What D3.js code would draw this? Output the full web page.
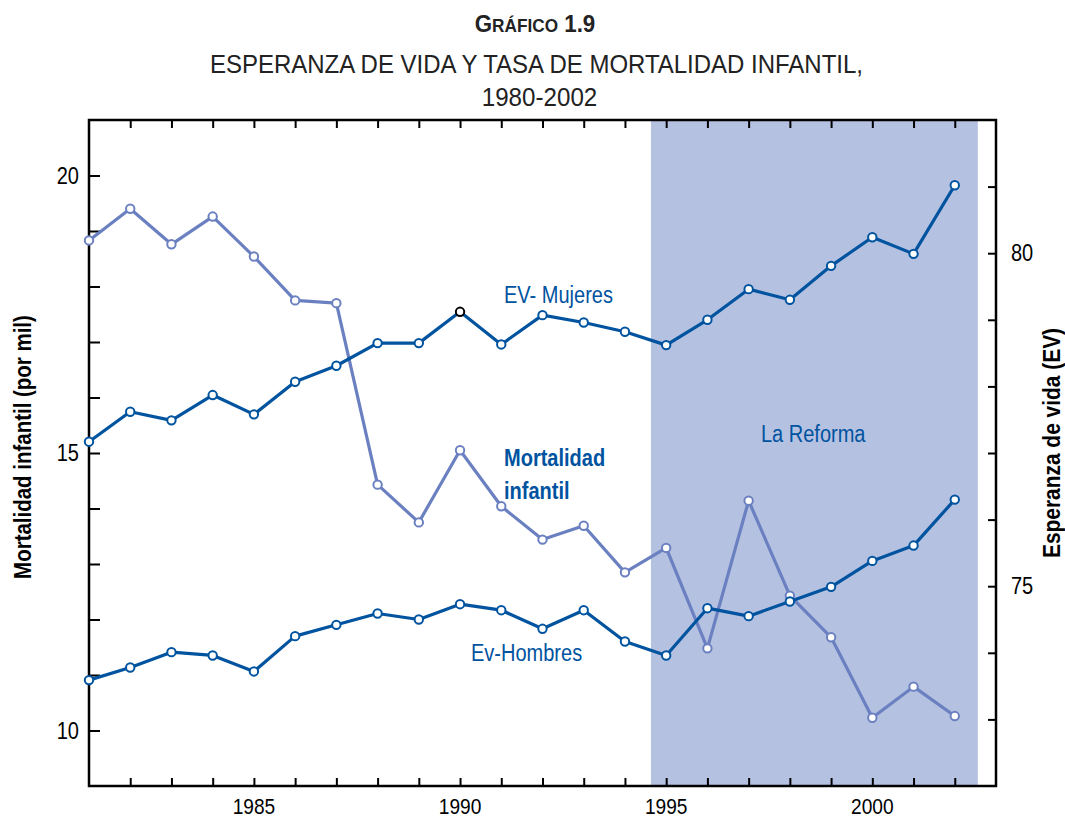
<!DOCTYPE html>
<html>
<head>
<meta charset="utf-8">
<script src="https://cdn.jsdelivr.net/npm/d3@7"></script>
<style>
  html, body { margin: 0; padding: 0; background: #fff; }
  svg { display: block; }
  text { font-family: "Liberation Sans Narrow", "Arial Narrow", "Liberation Sans", Arial, sans-serif; }
</style>
</head>
<body>
<svg id="chart" width="1065" height="820"></svg>
<script>
// ---- data ----
const years = [1981, 1982, 1983, 1984, 1985, 1986, 1987, 1988, 1989, 1990, 1991,
               1992, 1993, 1994, 1995, 1996, 1997, 1998, 1999, 2000, 2001, 2002];
const mortalidadInfantil = [18.83, 19.40, 18.76, 19.26, 18.54, 17.75, 17.70, 14.43, 13.75, 15.05, 14.04,
                            13.44, 13.69, 12.85, 13.29, 11.48, 14.14, 12.43, 11.68, 10.23, 10.79, 10.26];
const evMujeres = [77.17, 77.62, 77.49, 77.87, 77.58, 78.07, 78.31, 78.65, 78.65, 79.12, 78.63,
                   79.07, 78.96, 78.82, 78.62, 79.00, 79.46, 79.30, 79.81, 80.24, 79.99, 81.02];
const evHombres = [73.59, 73.78, 74.01, 73.96, 73.72, 74.25, 74.42, 74.59, 74.50, 74.73, 74.64,
                   74.36, 74.64, 74.17, 73.96, 74.67, 74.55, 74.77, 74.99, 75.38, 75.61, 76.30];
const reformaPeriod = [1994.63, 2002.56];
const xTickLabels = [1985, 1990, 1995, 2000];
const leftTickLabels = [10, 15, 20];
const rightTickLabels = [75, 80];
const leftMinorTicks = [10, 11, 12, 13, 14, 15, 16, 17, 18, 19, 20];
const rightMinorTicks = [73, 74, 75, 76, 77, 78, 79, 80, 81];
const yearTicks = years.slice(1);

// ---- layout ----
const L = 89, R = 996, T = 120, B = 786;
const DARK = "#00539f", LIGHT = "#6b80c1", SHADE = "#b5c1e1";
const FS = 23, SX = 0.87;

const svg = d3.select("#chart");
const x = d3.scaleLinear().domain([1981, 2003]).range([L, R]);
const yL = d3.scaleLinear().domain([9, 21]).range([B, T]);
const yR = d3.scaleLinear().domain([72, 82]).range([B, T]);

// condensed text helper (emulates a narrow typeface)
function label(px, py, str, o = {}) {
  const g = svg.append("g").attr("transform", `translate(${px},${py})${o.rotate ? " rotate(" + o.rotate + ")" : ""}`);
  const t = g.append("text")
    .attr("transform", `scale(${o.sx || SX},1)`)
    .attr("text-anchor", o.anchor || "start")
    .attr("font-size", o.size || FS)
    .attr("font-weight", o.bold ? "bold" : "normal")
    .attr("fill", o.color || "#000");
  if (o.dy) t.attr("dy", o.dy);
  if (str !== null) t.text(str);
  return t;
}

// titles
const t1 = label(535, 32, null, { anchor: "middle", bold: true, color: "#222", sx: 0.93 });
t1.append("tspan").attr("font-size", 24).text("G");
t1.append("tspan").attr("font-size", 18.5).text("RÁFICO");
t1.append("tspan").attr("font-size", 24).text(" 1.9");
label(536.5, 73, "ESPERANZA DE VIDA Y TASA DE MORTALIDAD INFANTIL,", { anchor: "middle", size: 26, color: "#222", sx: 0.923 });
label(539.5, 106, "1980-2002", { anchor: "middle", size: 26, color: "#222", sx: 0.93 });

// shaded reform period
svg.append("rect")
  .attr("x", x(reformaPeriod[0])).attr("y", T)
  .attr("width", x(reformaPeriod[1]) - x(reformaPeriod[0])).attr("height", B - T)
  .attr("fill", SHADE);

// axes ticks (labels drawn separately with condensed text)
function styleAxis(g) {
  g.select(".domain").remove();
  g.selectAll(".tick line").attr("stroke", "#000").attr("stroke-width", 2);
  g.selectAll(".tick text").remove();
}
svg.append("g").attr("transform", `translate(${L},0)`)
  .call(d3.axisLeft(yL).tickValues(leftMinorTicks).tickSizeInner(-11).tickSizeOuter(0))
  .call(styleAxis);
svg.append("g").attr("transform", `translate(${R},0)`)
  .call(d3.axisRight(yR).tickValues(rightMinorTicks).tickSizeInner(-8).tickSizeOuter(0))
  .call(styleAxis);
svg.append("g").attr("transform", `translate(0,${B})`)
  .call(d3.axisBottom(x).tickValues(yearTicks).tickSizeInner(-8).tickSizeOuter(0))
  .call(styleAxis);
svg.append("g").attr("transform", `translate(0,${T})`)
  .call(d3.axisTop(x).tickValues(yearTicks).tickSizeInner(-8).tickSizeOuter(0))
  .call(styleAxis);

leftTickLabels.forEach(v => label(L - 10, yL(v), String(v), { anchor: "end", dy: "0.35em" }));
rightTickLabels.forEach(v => label(R + 15, yR(v), String(v), { anchor: "start", dy: "0.35em" }));
xTickLabels.forEach(v => label(x(v), 814, String(v), { anchor: "middle", size: 22 }));

// frame
svg.append("rect").attr("x", L).attr("y", T).attr("width", R - L).attr("height", B - T)
  .attr("fill", "none").attr("stroke", "#000").attr("stroke-width", 2.5);

// series
function drawSeries(values, yScale, color, specialIdx) {
  const pts = years.map((yr, i) => [x(yr), yScale(values[i])]);
  svg.append("path").attr("d", d3.line()(pts))
    .attr("fill", "none").attr("stroke", color).attr("stroke-width", 3.2).attr("stroke-linejoin", "round");
  svg.append("g").selectAll("circle").data(pts).join("circle")
    .attr("cx", d => d[0]).attr("cy", d => d[1]).attr("r", 4.2)
    .attr("fill", "#fff")
    .attr("stroke", (d, i) => i === specialIdx ? "#000" : color)
    .attr("stroke-width", 2);
}
drawSeries(mortalidadInfantil, yL, LIGHT, -1);
drawSeries(evHombres, yR, DARK, -1);
drawSeries(evMujeres, yR, DARK, years.indexOf(1990));

// series labels
label(504, 303, "EV- Mujeres", { color: DARK });
label(471, 661, "Ev-Hombres", { color: DARK });
label(761, 442, "La Reforma", { color: DARK });
label(504, 466, "Mortalidad", { color: DARK, bold: true });
label(504, 499, "infantil", { color: DARK, bold: true });

// axis titles
label(31, 447, "Mortalidad infantil (por mil)", { anchor: "middle", bold: true, rotate: -90, sx: 0.89 });
label(1060, 443, "Esperanza de vida (EV)", { anchor: "middle", bold: true, rotate: -90, sx: 0.91 });
</script>
</body>
</html>
